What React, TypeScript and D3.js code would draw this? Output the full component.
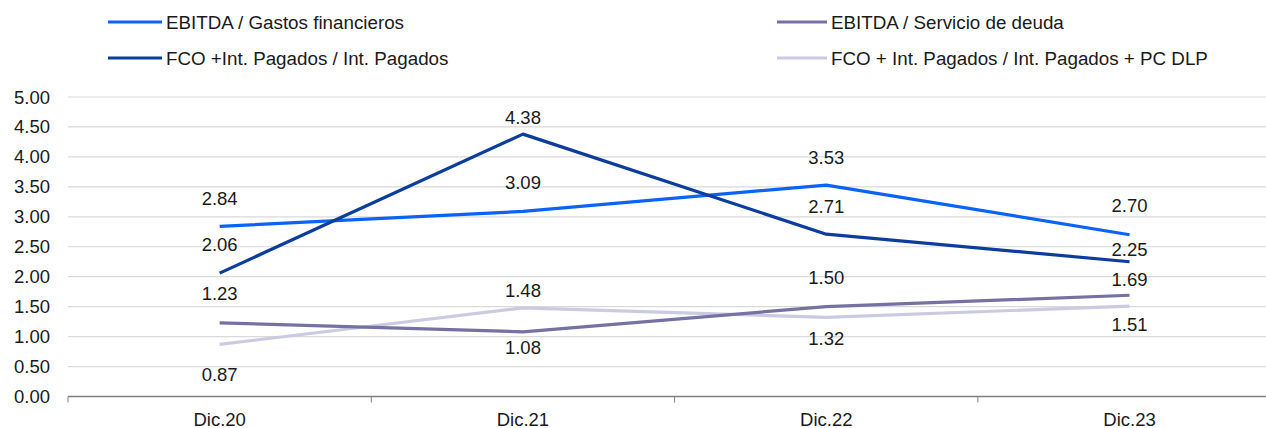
import React, { useEffect, useRef } from 'react';
import * as d3 from 'd3';

const categories = ['Dic.20', 'Dic.21', 'Dic.22', 'Dic.23'];
const seriesNames = [
  'EBITDA / Gastos financieros',
  'FCO +Int. Pagados / Int. Pagados',
  'EBITDA / Servicio de deuda',
  'FCO + Int. Pagados / Int. Pagados + PC DLP',
];
const ebitdaGastos = [2.84, 3.09, 3.53, 2.7];
const fcoInt = [2.06, 4.38, 2.71, 2.25];
const ebitdaServicio = [1.23, 1.08, 1.5, 1.69];
const fcoPcDlp = [0.87, 1.48, 1.32, 1.51];
const yTicks = [0, 0.5, 1, 1.5, 2, 2.5, 3, 3.5, 4, 4.5, 5];

const seriesValues = [ebitdaGastos, fcoInt, ebitdaServicio, fcoPcDlp];
const colors = ['#0B63F6', '#0A3D9C', '#7572A3', '#CACBE2'];
// label vertical offsets (px, relative to point), as placed in the original
const labelDy = [
  [-28, -29, -28, -29],
  [-29, -17, -28, -12],
  [-29, 16, -29, -16],
  [30, -17, 21, 18],
];

export default function App() {
  const ref = useRef<SVGSVGElement>(null);

  useEffect(() => {
    const svg = d3.select(ref.current);
    svg.selectAll('*').remove();

    const width = 1266;
    const height = 428;
    const left = 68;
    const step = 303.3;
    const right = left + step * categories.length;
    const font = '"Liberation Sans", Arial, sans-serif';
    const numSize = 18.5;

    const x = d3
      .scaleBand<string>()
      .domain(categories)
      .range([left, right])
      .paddingInner(0)
      .paddingOuter(0);
    const cx = (c: string) => (x(c) as number) + x.bandwidth() / 2;

    const y = d3.scaleLinear().domain([0, 5]).range([396.5, 97]);

    // gridlines
    svg
      .append('g')
      .selectAll('line')
      .data(yTicks.slice(1))
      .join('line')
      .attr('x1', left)
      .attr('x2', right)
      .attr('y1', (d) => y(d))
      .attr('y2', (d) => y(d))
      .attr('stroke', '#d9d9d9')
      .attr('stroke-width', 1.2);

    // y tick labels
    svg
      .append('g')
      .selectAll('text')
      .data(yTicks)
      .join('text')
      .attr('x', 50)
      .attr('y', (d) => y(d))
      .attr('text-anchor', 'end')
      .attr('dominant-baseline', 'central')
      .attr('font-family', font)
      .attr('font-size', numSize)
      .attr('fill', '#1a1a1a')
      .text((d) => d.toFixed(2));

    // x axis
    svg
      .append('line')
      .attr('x1', left)
      .attr('x2', right)
      .attr('y1', y(0))
      .attr('y2', y(0))
      .attr('stroke', '#808080')
      .attr('stroke-width', 1.3);

    const boundaries = categories.map((c) => x(c) as number).concat([right]);
    svg
      .append('g')
      .selectAll('line')
      .data(boundaries)
      .join('line')
      .attr('x1', (d) => d)
      .attr('x2', (d) => d)
      .attr('y1', y(0))
      .attr('y2', y(0) + 6)
      .attr('stroke', '#808080')
      .attr('stroke-width', 1);

    svg
      .append('g')
      .selectAll('text')
      .data(categories)
      .join('text')
      .attr('x', (d) => cx(d))
      .attr('y', 419)
      .attr('text-anchor', 'middle')
      .attr('dominant-baseline', 'central')
      .attr('font-family', font)
      .attr('font-size', numSize)
      .attr('fill', '#1a1a1a')
      .text((d) => d);

    // lines
    const line = d3
      .line<number>()
      .x((_, i) => cx(categories[i]))
      .y((d) => y(d));

    const order = [3, 2, 0, 1];
    order.forEach((s) => {
      svg
        .append('path')
        .datum(seriesValues[s])
        .attr('fill', 'none')
        .attr('stroke', colors[s])
        .attr('stroke-width', 3.2)
        .attr('stroke-linejoin', 'round')
        .attr('d', line);
    });

    // data labels
    seriesValues.forEach((vals, s) => {
      svg
        .append('g')
        .selectAll('text')
        .data(vals)
        .join('text')
        .attr('x', (_, i) => cx(categories[i]))
        .attr('y', (d, i) => y(d) + labelDy[s][i])
        .attr('text-anchor', 'middle')
        .attr('dominant-baseline', 'central')
        .attr('font-family', font)
        .attr('font-size', numSize)
        .attr('fill', '#1a1a1a')
        .text((d) => d.toFixed(2));
    });

    // legend: [line start, line end, text start, y]
    const legendPos = [
      [108, 162, 166, 22],
      [108, 162, 166, 58],
      [777, 827, 831, 22],
      [777, 827, 831, 58],
    ];
    seriesNames.forEach((name, s) => {
      const [x1, x2, tx, ly] = legendPos[s];
      svg
        .append('line')
        .attr('x1', x1)
        .attr('x2', x2)
        .attr('y1', ly)
        .attr('y2', ly)
        .attr('stroke', colors[s])
        .attr('stroke-width', 3.2);
      svg
        .append('text')
        .attr('x', tx)
        .attr('y', ly)
        .attr('dominant-baseline', 'central')
        .attr('font-family', font)
        .attr('font-size', 18.8)
        .attr('fill', '#1a1a1a')
        .text(name);
    });

    svg.attr('width', width).attr('height', height);
  }, []);

  return (
    <svg
      ref={ref}
      width={1266}
      height={428}
      style={{ position: 'absolute', left: 0, top: 0, background: '#fff' }}
    />
  );
}
